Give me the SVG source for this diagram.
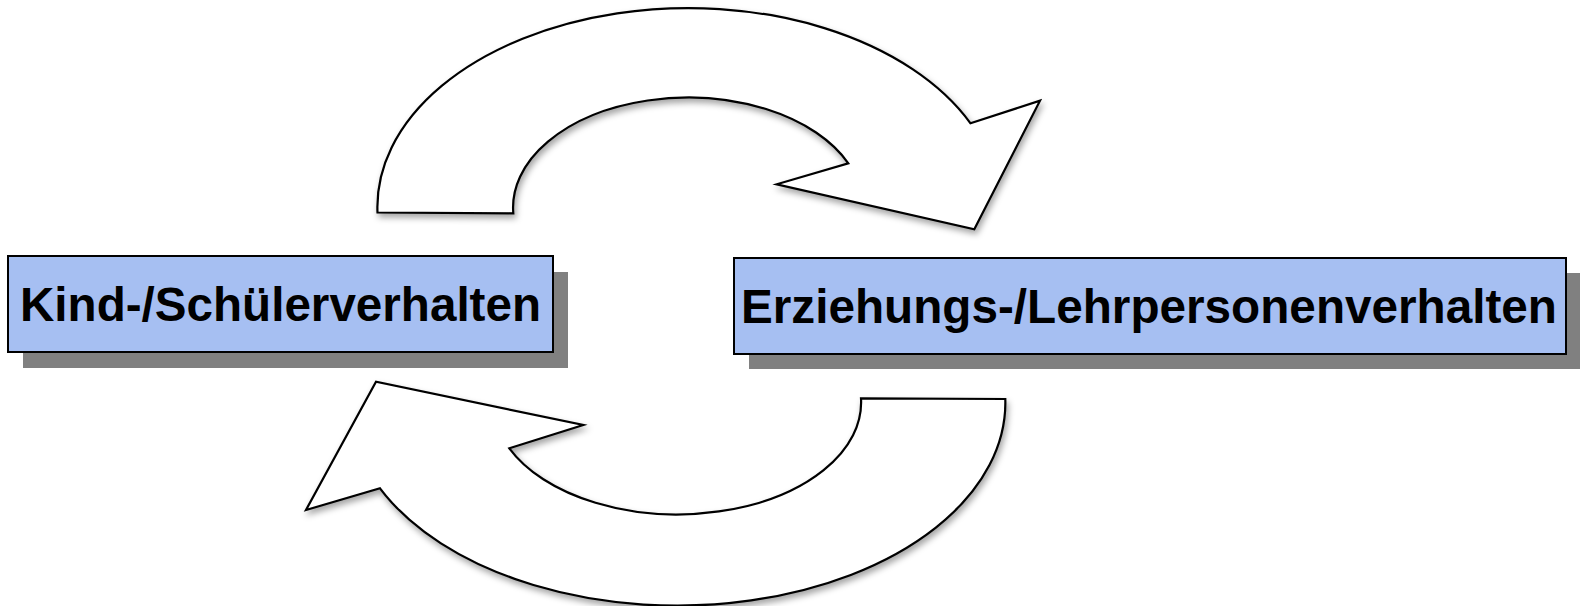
<svg xmlns="http://www.w3.org/2000/svg" width="1580" height="606" viewBox="0 0 1580 606">
<style>
.box{fill:#a6bff2;stroke:#000;stroke-width:2}
.shadow{fill:#808080}
.lbl{font-family:"Liberation Sans",Arial,sans-serif;font-weight:bold;font-size:48px;fill:#000;text-anchor:middle}
.arrow{fill:#fff;stroke:#000;stroke-width:2.2;stroke-linejoin:miter;filter:url(#ds)}
</style>
<defs>
<filter id="ds" x="-10%" y="-10%" width="120%" height="130%">
<feDropShadow dx="2" dy="4" stdDeviation="3" flood-color="#000" flood-opacity="0.35"/>
</filter>
</defs>
<rect width="1580" height="606" fill="#fff"/>
<g id="connectors">
<path class="arrow" d="M 377.5 212.5 A 311 199 0 0 1 970.5 123.3 L 1040 100.7 L 974.3 229.3 L 776.7 184.3 L 848.3 163.3 A 175 110 0 0 0 513.3 213.3 Z"/>
<path class="arrow" d="M 1005.3 399 A 328 203 0 0 1 380 488.3 L 306 510 L 376 381.7 L 583.3 425 L 509.3 448.3 A 184 112 0 0 0 861 398.3 Z"/>
</g>
<g id="node-kind">
<rect class="shadow" x="23" y="272" width="545" height="96"/>
<rect class="box" x="8" y="256" width="545" height="96"/>
<text class="lbl" x="280.5" y="321" textLength="521" lengthAdjust="spacingAndGlyphs">Kind-/Schülerverhalten</text>
</g>
<g id="node-erziehung">
<rect class="shadow" x="749" y="273" width="832" height="96"/>
<rect class="box" x="734" y="258" width="832" height="96"/>
<text class="lbl" x="1149" y="323" textLength="816" lengthAdjust="spacingAndGlyphs">Erziehungs-/Lehrpersonenverhalten</text>
</g>
</svg>
